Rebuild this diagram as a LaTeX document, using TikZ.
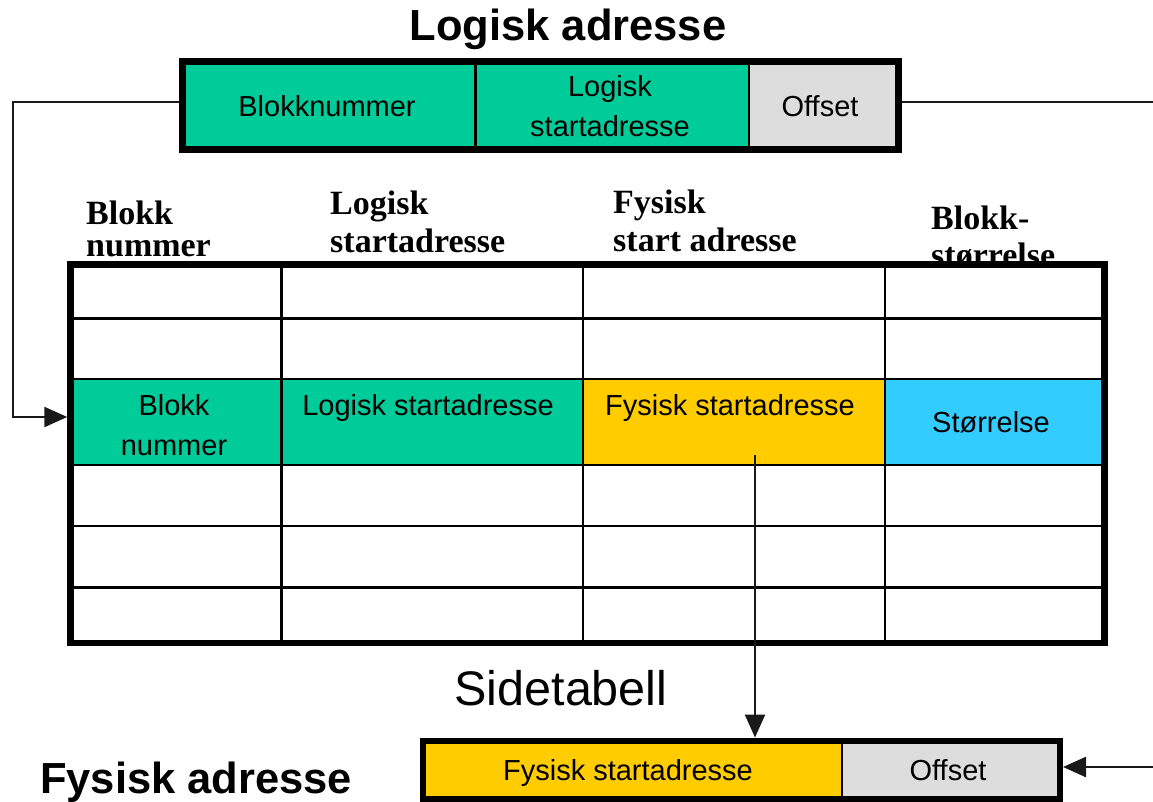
\documentclass[tikz,border=0pt]{standalone}
\usepackage{fontspec}
\setmainfont{Liberation Sans}
\newfontfamily\hdrfont{Liberation Serif}
\usetikzlibrary{arrows.meta}
\definecolor{cteal}{RGB}{0,204,153}
\definecolor{cgold}{RGB}{255,204,0}
\definecolor{csky}{RGB}{51,204,255}
\definecolor{cgrey}{RGB}{221,221,221}
\begin{document}
\begin{tikzpicture}[x=1pt,y=-1pt,
  barframe/.style={draw=black,line width=#1,inner sep=0pt,outer sep=0.5*#1,fill=none},
  divider/.style={draw=black,line width=2.5pt},
  conn/.style={draw=black!90,line width=2.4pt},
  tip/.style={-{Triangle[length=23pt,width=20pt]}},
  lab/.style={font=\fontsize{29}{40}\selectfont,inner sep=0pt,anchor=base},
  hdr/.style={font=\hdrfont\bfseries\fontsize{34}{36}\selectfont,inner sep=0pt,anchor=base west},
  title/.style={font=\bfseries\fontsize{43.5}{48}\selectfont,inner sep=0pt,anchor=base}]
\useasboundingbox (0,0) rectangle (1153,802);

% ---- title
\node[title] (ttl) at (568,41) {Logisk adresse};

% ---- logical address bar
\fill[cteal] (182.5,61.5) rectangle (749,150);
\fill[cgrey] (749,61.5) rectangle (898.5,150);
\draw[divider] (475.7,61.5) -- (475.7,150);
\draw[divider] (749,61.5) -- (749,150);
\node[barframe=7pt, minimum width=716pt, minimum height=88.5pt] (la) at (540.5,105.75) {};
\node[lab] (la1) at (327,117) {Blokknummer};
\node[lab] (la2a) at (610,97) {Logisk};
\node[lab] (la2b) at (610,137) {startadresse};
\node[lab] (la3) at (820,117) {Offset};

% ---- column headers of the page table
\node[hdr] (h1a) at (86,225) {Blokk};
\node[hdr] (h1b) at (86,257) {nummer};
\node[hdr] (h2a) at (330,215) {Logisk};
\node[hdr] (h2b) at (330,253) {startadresse};
\node[hdr] (h3a) at (613,214) {Fysisk};
\node[hdr] (h3b) at (613,252) {start adresse};
\node[hdr] (h4a) at (931,230) {Blokk-};
\node[hdr] (h4b) at (931,266) {størrelse};

% ---- page table
\fill[white] (70.5,264.5) rectangle (1104.5,643);
\fill[cteal] (70.5,379) rectangle (583,465);
\fill[cgold] (583,379) rectangle (885,465);
\fill[csky]  (885,379) rectangle (1104.5,465);
\foreach \yy in {318.3,379,465,526,587.7}
  \draw[divider] (70.5,\yy) -- (1104.5,\yy);
\foreach \xx in {281.7,583,885}
  \draw[divider] (\xx,264.5) -- (\xx,643);
\node[barframe=6.5pt, minimum width=1034pt, minimum height=378.5pt] (tbl) at (587.5,453.75) {};
\node[lab] (r1a) at (174,415) {Blokk};
\node[lab] (r1b) at (174,455) {nummer};
\node[lab] (r2) at (428,415) {Logisk startadresse};
\node[lab] (r3) at (730,415) {Fysisk startadresse};
\node[lab] (r4) at (991,432) {Størrelse};

\node[font=\fontsize{48.5}{52}\selectfont,inner sep=0pt,anchor=base] (side) at (561,705) {Sidetabell};

% ---- physical address bar
\fill[cgold] (423,740.5) rectangle (842,799);
\fill[cgrey] (842,740.5) rectangle (1060,799);
\draw[divider] (842,740.5) -- (842,799);
\node[barframe=6pt, minimum width=637pt, minimum height=58.5pt] (fa) at (741.5,769.75) {};
\node[lab] (fa1) at (628,780) {Fysisk startadresse};
\node[lab] (fa2) at (948,780) {Offset};
\node[title,anchor=base west] (ftl) at (40,793) {Fysisk adresse};

% ---- connectors
\coordinate (lc1) at (13,102);
\coordinate (lc2) at (13,417);
\draw[conn,tip] ([yshift=3.75pt]la.west) -- (lc1) -- (lc2) -- (lc2 -| tbl.west);
\coordinate (rout) at (1153,102);
\draw[conn] ([yshift=3.75pt]la.east) -- (rout);
\coordinate (fsrc) at (755,455);
\draw[conn,tip] (fsrc) -- (fsrc |- fa.north);
\coordinate (rin) at (1153,767);
\draw[conn,tip] (rin) -- (rin -| fa.east);
\end{tikzpicture}
\end{document}
